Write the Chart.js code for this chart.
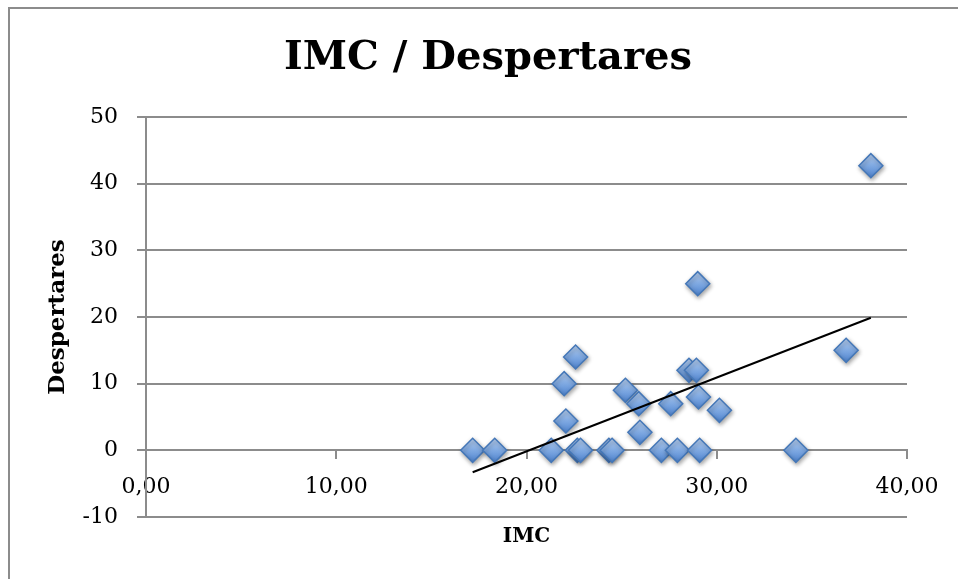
<!DOCTYPE html>
<html>
<head>
<meta charset="utf-8">
<script src="https://cdn.jsdelivr.net/npm/chart.js@4/dist/chart.umd.min.js"></script>
<style>
  html, body { margin: 0; padding: 0; background: #fff; }
  #wrap { width: 958px; height: 579px; }
</style>
</head>
<body>
<div id="wrap"><canvas id="scatterChart" width="958" height="579"></canvas></div>
<script>
// IMC values (x) and number of awakenings (y)
const imc = [
  17.17, 18.33, 21.3, 22.58, 21.98, 22.07, 22.67, 22.84, 24.33, 24.5,
  25.2, 25.9, 25.96, 27.09, 27.93, 27.58, 28.54, 28.93, 29.04, 29.1,
  30.14, 38.1, 29.0, 36.8, 34.16,
];
const despertares = [
  0, 0, 0, 14, 10, 4.4, 0, 0, 0, 0,
  9, 7, 2.7, 0, 0, 7, 12, 12, 8, 0,
  6, 42.7, 25, 15, 0,
];
const xTicks = [0, 10, 20, 30, 40];
const yTicks = [-10, 0, 10, 20, 30, 40, 50];

const points = imc.map((x, i) => ({ x: x, y: despertares[i] }));

// linear trendline (least squares) like the spreadsheet one
const n = imc.length;
const mx = imc.reduce((a, b) => a + b, 0) / n;
const my = despertares.reduce((a, b) => a + b, 0) / n;
let sxy = 0, sxx = 0;
imc.forEach((x, i) => {
  sxy += (x - mx) * (despertares[i] - my);
  sxx += (x - mx) * (x - mx);
});
const slope = sxy / sxx;
const icpt = my - slope * mx;
const xMin = Math.min(...imc);
const xMax = Math.max(...imc);
const trend = [
  { x: xMin, y: icpt + slope * xMin },
  { x: xMax, y: icpt + slope * xMax },
];

const serif = "'DejaVu Serif', serif";
const grey = "#8c8c8c";

// diamond fill: light on top, darker below
function diamondFill(context) {
  const chart = context.chart;
  const yScale = chart.scales.y;
  if (!yScale || !context.raw || !isFinite(yScale.top)) return "#72a0dc";
  const py = yScale.getPixelForValue(context.raw.y);
  const g = chart.ctx.createLinearGradient(0, py - 12, 0, py + 12);
  g.addColorStop(0, "#b9d2f3");
  g.addColorStop(0.5, "#7fa9e2");
  g.addColorStop(1, "#4f84cf");
  return g;
}

const frame = {
  id: "frame",
  beforeDraw(chart) {
    const c = chart.ctx;
    c.save();
    c.fillStyle = "#fff";
    c.fillRect(0, 0, chart.width, chart.height);
    c.strokeStyle = grey;
    c.lineWidth = 2;
    c.strokeRect(9, 8, chart.width + 20, chart.height + 20);
    c.restore();
  },
  beforeDatasetDraw(chart, args) {
    if (args.index === 1) {
      const c = chart.ctx;
      c.save();
      c.shadowColor = "rgba(0,0,0,0.35)";
      c.shadowBlur = 4;
      c.shadowOffsetX = 1;
      c.shadowOffsetY = 2;
    }
  },
  afterDatasetDraw(chart, args) {
    if (args.index === 1) chart.ctx.restore();
  },
};

const ctx = document.getElementById("scatterChart");

new Chart(ctx, {
  type: "scatter",
  data: {
    datasets: [
      {
        label: "Tendencia",
        data: trend,
        showLine: true,
        borderColor: "#000",
        borderWidth: 2,
        pointRadius: 0,
        fill: false,
      },
      {
        label: "Despertares",
        data: points,
        pointStyle: "rectRot",
        pointRadius: 12,
        pointHoverRadius: 12,
        backgroundColor: diamondFill,
        borderColor: "#4477b8",
        borderWidth: 1.5,
      },
    ],
  },
  options: {
    responsive: false,
    animation: false,
    devicePixelRatio: 1,
    layout: {
      padding: { left: 44, right: 26, top: 35, bottom: 30 },
    },
    plugins: {
      legend: { display: false },
      tooltip: { enabled: false },
      title: {
        display: true,
        text: "IMC / Despertares",
        color: "#000",
        font: { family: serif, size: 40, weight: "bold" },
        padding: { top: 0, bottom: 34 },
      },
      subtitle: {
        display: true,
        text: "IMC",
        position: "bottom",
        fullSize: false,
        color: "#000",
        font: { family: serif, size: 20, weight: "bold" },
        padding: { top: 8, bottom: 0 },
      },
    },
    scales: {
      x: {
        type: "linear",
        position: { y: 0 },
        min: 0,
        max: 40,
        afterBuildTicks(axis) {
          axis.ticks = xTicks.map((v) => ({ value: v }));
        },
        ticks: {
          color: "#000",
          padding: 16,
          maxRotation: 0,
          font: { family: serif, size: 22 },
          callback: (v) => v.toFixed(2).replace(".", ","),
        },
        grid: {
          drawOnChartArea: false,
          drawTicks: true,
          tickLength: 8,
          color: grey,
          lineWidth: 2,
        },
        border: { color: grey, width: 2 },
      },
      y: {
        type: "linear",
        min: -10,
        max: 50,
        afterBuildTicks(axis) {
          axis.ticks = yTicks.map((v) => ({ value: v }));
        },
        afterFit(axis) {
          axis.width = 102;
        },
        ticks: {
          color: "#000",
          padding: 19,
          font: { family: serif, size: 22 },
          callback: (v) => String(v),
        },
        grid: {
          color: grey,
          lineWidth: 2,
          tickLength: 9,
        },
        border: { color: grey, width: 2 },
        title: {
          display: true,
          text: "Despertares",
          color: "#000",
          font: { family: serif, size: 23, weight: "bold" },
          padding: { top: 0, bottom: 0 },
        },
      },
      // empty spacer on the right so the title sits where it does in the original
      spacer: {
        type: "linear",
        position: "right",
        display: true,
        grid: { display: false },
        ticks: { display: false },
        border: { display: false },
        afterFit(axis) {
          axis.width = 25;
        },
      },
    },
  },
  plugins: [frame],
});
</script>
</body>
</html>
